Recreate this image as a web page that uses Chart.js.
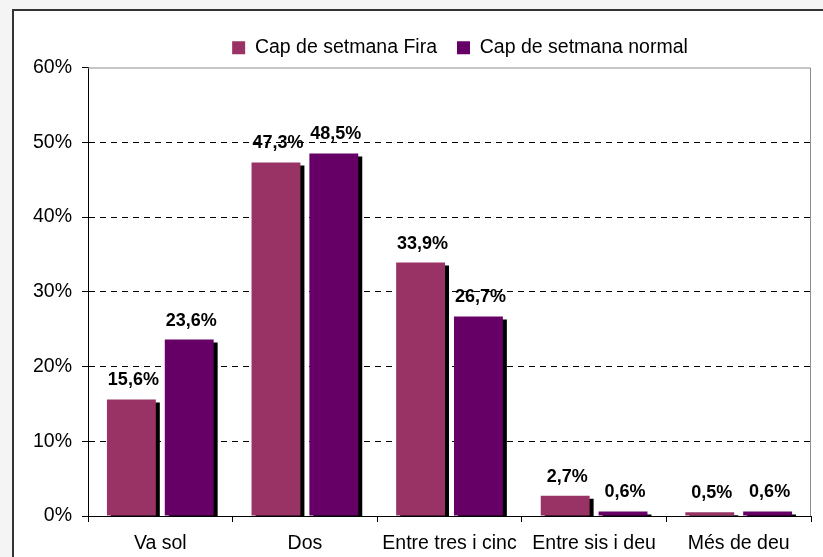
<!DOCTYPE html>
<html>
<head>
<meta charset="utf-8">
<script src="https://cdn.jsdelivr.net/npm/chart.js@4.4.0/dist/chart.umd.min.js"></script>
<style>
    html, body { margin: 0; padding: 0; background: #f4f4f4; overflow: hidden; width: 823px; height: 557px; }
    #frame { position: absolute; left: 12px; top: 9px; width: 900px; height: 600px; border: 2px solid #333; background: #fff; }
    #wrap { position: absolute; left: 0; top: 0; width: 892px; height: 546px; }
</style>
</head>
<body>
<div id="frame">
    <div id="wrap"><canvas id="chart"></canvas></div>
</div>
<script>
const categories = ['Va sol', 'Dos', 'Entre tres i cinc', 'Entre sis i deu', 'Més de deu'];
const firaValues = [15.6, 47.3, 33.9, 2.7, 0.5];
const normalValues = [23.6, 48.5, 26.7, 0.6, 0.6];
const seriesNames = ['Cap de setmana Fira', 'Cap de setmana normal'];
const yTicks = [0, 10, 20, 30, 40, 50, 60];

const FONT = '"Liberation Sans", Arial, sans-serif';

// black drop shadow behind the bars (only while a dataset is drawn)
const barShadow = {
    id: 'barShadow',
    beforeDatasetDraw(chart) {
        const ctx = chart.ctx;
        ctx.save();
        ctx.shadowColor = '#000';
        ctx.shadowOffsetX = 4;
        ctx.shadowOffsetY = 3;
        ctx.shadowBlur = 0;
    },
    afterDatasetDraw(chart) {
        chart.ctx.restore();
    }
};

// grey top and right edges of the plot area
const plotFrame = {
    id: 'plotFrame',
    beforeDatasetsDraw(chart) {
        const { ctx, chartArea: a } = chart;
        ctx.save();
        ctx.strokeStyle = '#8c8c8c';
        ctx.lineWidth = 1;
        ctx.beginPath();
        ctx.moveTo(a.left, a.top + 0.5);
        ctx.lineTo(a.right - 0.5, a.top + 0.5);
        ctx.lineTo(a.right - 0.5, a.bottom);
        ctx.stroke();
        ctx.restore();
    }
};

// value labels above each bar
const valueLabels = {
    id: 'valueLabels',
    afterDatasetsDraw(chart) {
        const ctx = chart.ctx;
        ctx.save();
        ctx.font = 'bold 18px ' + FONT;
        ctx.fillStyle = '#000';
        ctx.textAlign = 'center';
        ctx.textBaseline = 'middle';
        chart.data.datasets.forEach((ds, i) => {
            chart.getDatasetMeta(i).data.forEach((bar, j) => {
                const txt = ds.data[j].toFixed(1).replace('.', ',') + '%';
                ctx.fillText(txt, bar.x + 2, bar.y - 19);
            });
        });
        ctx.restore();
    }
};

new Chart(document.getElementById('chart'), {
    type: 'bar',
    data: {
        labels: categories,
        datasets: [
            { label: seriesNames[0], data: firaValues, backgroundColor: '#993366' },
            { label: seriesNames[1], data: normalValues, backgroundColor: '#660066' }
        ]
    },
    options: {
        responsive: true,
        maintainAspectRatio: false,
        animation: false,
        categoryPercentage: 0.8,
        barPercentage: 0.845,
        layout: { padding: { top: 7 } },
        plugins: {
            tooltip: { enabled: false },
            legend: {
                position: 'top',
                labels: {
                    boxWidth: 13,
                    boxHeight: 13,
                    padding: 20,
                    color: '#000',
                    font: { family: FONT, size: 19.5 }
                }
            }
        },
        scales: {
            x: {
                grid: { drawOnChartArea: false, offset: true, tickLength: 6, color: '#000' },
                border: { color: '#000', width: 1 },
                ticks: { color: '#000', padding: 10, font: { family: FONT, size: 19.5 } },
                afterFit: s => { s.height = 41; }
            },
            y: {
                min: 0,
                max: 60,
                afterBuildTicks: s => { s.ticks = yTicks.map(v => ({ value: v })); },
                grid: {
                    color: c => (c.tick && (c.tick.value === 0 || c.tick.value === 60)) ? 'rgba(0,0,0,0)' : '#000',
                    tickColor: '#000',
                    tickLength: 6,
                    lineWidth: 1
                },
                border: { color: '#000', width: 1, dash: [6, 5] },
                ticks: {
                    color: '#000',
                    padding: 10,
                    font: { family: FONT, size: 19.5 },
                    callback: v => v + '%'
                },
                afterFit: s => { s.width = 74; }
            },
            spacer: {
                type: 'linear',
                position: 'right',
                grid: { display: false },
                border: { display: false },
                ticks: { display: false },
                afterFit: s => { s.width = 95; }
            }
        }
    },
    plugins: [plotFrame, barShadow, valueLabels]
});
</script>
</body>
</html>
